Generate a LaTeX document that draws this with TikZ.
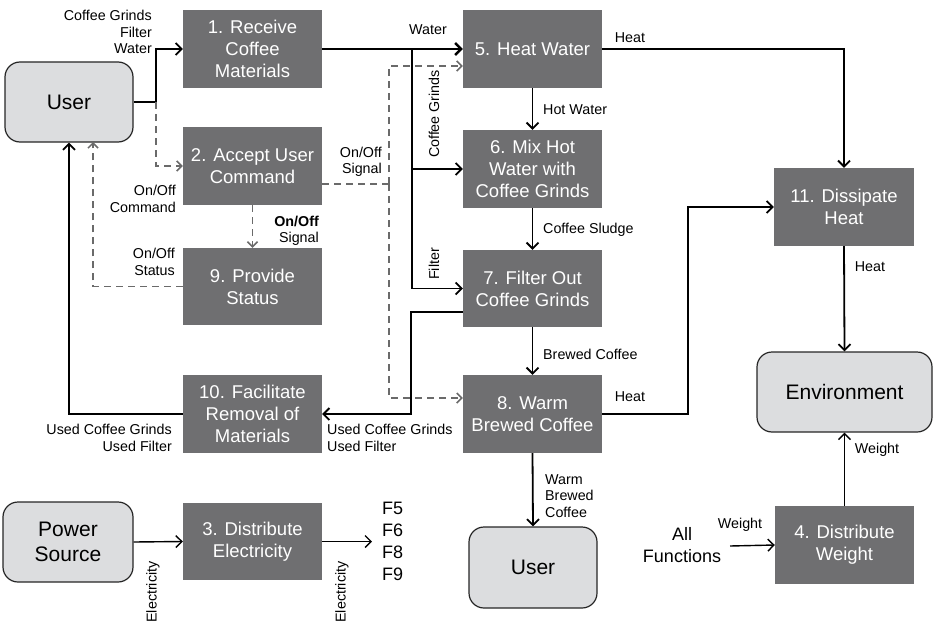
\documentclass[tikz,border=0pt]{standalone}
\usepackage{fontspec}
\setmainfont{Liberation Sans}
\usetikzlibrary{arrows.meta}
\definecolor{boxgray}{HTML}{6F6F71}
\definecolor{lightgray}{HTML}{DCDDDF}
\definecolor{dashgray}{HTML}{6A6A6A}
\begin{document}
\begin{tikzpicture}[x=1pt,y=-1pt,
 fbox/.style={fill=boxgray, text=white, minimum width=139pt, minimum height=78pt, inner sep=0pt, align=center, font=\fontsize{18.5}{22}\selectfont},
 ebox/.style={fill=lightgray, draw=black!85, line width=1.2pt, rounded corners=15pt, minimum width=128pt, minimum height=80pt, inner sep=0pt, align=center, font=\fontsize{21}{25}\selectfont},
 lbl/.style={font=\fontsize{14.3}{16.5}\selectfont, inner sep=0pt},
 flow/.style={line width=1.8pt, -{Straight Barb[length=6pt,width=12pt]}},
 thin flow/.style={line width=1.4pt, -{Straight Barb[length=6pt,width=12pt]}},
 sig/.style={line width=1.5pt, dashgray, dash pattern=on 7pt off 5pt, -{Straight Barb[length=5pt,width=10pt]}},
 sigline/.style={line width=1.5pt, dashgray, dash pattern=on 7pt off 5pt},
]
\useasboundingbox (0,0) rectangle (933,623);

% function boxes
\node[fbox] (b1) at (252.5,49) {1. Receive\\Coffee\\Materials};
\node[fbox] (b2) at (252.5,166) {2. Accept User\\Command};
\node[fbox,minimum height=77pt] (b9) at (252.5,286.5) {9. Provide\\Status};
\node[fbox] (b10) at (252.5,414) {10. Facilitate\\Removal of\\Materials};
\node[fbox,minimum height=77pt] (b3) at (252.5,541.5) {3. Distribute\\Electricity};
\node[fbox] (b5) at (532.5,49) {5. Heat Water};
\node[fbox] (b6) at (532.5,169) {6. Mix Hot\\Water with\\Coffee Grinds};
\node[fbox,minimum height=77pt] (b7) at (532.5,288.5) {7. Filter Out\\Coffee Grinds};
\node[fbox] (b8) at (532.5,414) {8. Warm\\Brewed Coffee};
\node[fbox,minimum width=140pt] (b11) at (844,207) {11. Dissipate\\Heat};
\node[fbox] (b4) at (844.5,545) {4. Distribute\\Weight};

% external entities
\node[ebox] (u1) at (69,102) {User};
\node[ebox,minimum width=130pt] (ps) at (68,542) {Power\\Source};
\node[ebox,minimum height=81pt] (u2) at (533,567.5) {User};
\node[ebox,minimum width=175pt] (env) at (844.5,392) {Environment};

% helper coordinates
\coordinate (j1) at (156,102);
\coordinate (u1a) at (93,142);
\coordinate (j2) at (412,49);
\coordinate (d1) at (389,184);
\coordinate (k1) at (411,312);
\coordinate (k2) at (688,414);
\coordinate (afs) at (730,546);
\coordinate (fe) at (372,541.5);

% connectors
\draw[flow] (u1.east) -- (j1) |- (b1.west);
\draw[sig] (j1) |- (b2.west);
\draw[sig] (b2.south) -- (b9.north);
\draw[sig] (b9.west) -| (u1a);
\draw[flow] (b10.west) -| (u1.south);
\draw[flow, line width=2.4pt] (b1.east) -- (b5.west);
\draw[flow] (j2) |- (b6.west);
\draw[flow] (j2) |- (b7.west);
\draw[sigline] ([yshift=-18pt]b2.east) -- (d1);
\draw[sig] (d1) |- ([yshift=-17pt]b5.west);
\draw[sig] (d1) |- ([yshift=16pt]b8.west);
\draw[flow] (b5.south) -- (b6.north);
\draw[flow] (b6.south) -- (b7.north);
\draw[flow] (b7.south) -- (b8.north);
\draw[flow] ([yshift=-23.5pt]b7.west) -- (k1) |- (b10.east);
\draw[flow] (b5.east) -| (b11.north);
\draw[flow] (b8.east) -- (k2) |- (b11.west);
\draw[flow] (b11.south) -- (env.north);
\draw[thin flow] (b4.north) -- (env.south);
\draw[thin flow] (afs) -- (b4.west);
\draw[thin flow] (ps.east) -- (b3.west);
\draw[thin flow] (b3.east) -- (fe);
\draw[flow] (b8.south) -- (u2.north);

% texts
\node[font=\fontsize{18}{22}\selectfont, align=center, inner sep=0pt] (af) at (682,545) {All\\Functions};
\node[font=\fontsize{18}{22}\selectfont, align=left, anchor=west, inner sep=0pt] (fl) at (382,541) {F5\\F6\\F8\\F9};

\node[lbl, align=right, anchor=east] (l1) at (152,32) {Coffee Grinds\\Filter\\Water};
\node[lbl] (l2) at (428,30) {Water};
\node[lbl, rotate=90] (l3) at (434,114) {Coffee Grinds};
\node[lbl, rotate=90] (l4) at (434,264) {Filter};
\node[lbl, align=right, anchor=east] (l5) at (382,162) {On/Off\\Signal};
\node[lbl, align=right, anchor=east] (l6) at (176,199) {On/Off\\Command};
\node[lbl, align=right, anchor=east] (l7) at (175,262) {On/Off\\Status};
\node[lbl, align=right, anchor=east] (l8) at (319,231) {\textbf{On/Off}\\Signal};
\node[lbl, align=right, anchor=east] (l9) at (172,438) {Used Coffee Grinds\\Used Filter};
\node[lbl, align=left, anchor=west] (l10) at (327,438) {Used Coffee Grinds\\Used Filter};
\node[lbl, anchor=west] (l11) at (543,110) {Hot Water};
\node[lbl, anchor=west] (l12) at (543,230) {Coffee Sludge};
\node[lbl, anchor=west] (l13) at (543,354) {Brewed Coffee};
\node[lbl, align=left, anchor=west] (l14) at (545,496) {Warm\\Brewed\\Coffee};
\node[lbl] (l15) at (630,38) {Heat};
\node[lbl] (l16) at (630,397) {Heat};
\node[lbl] (l17) at (870,267) {Heat};
\node[lbl] (l18) at (877,450) {Weight};
\node[lbl] (l19) at (740,525) {Weight};
\node[lbl, rotate=90] (l20) at (153,592) {Electricity};
\node[lbl, rotate=90] (l21) at (342,592) {Electricity};
\end{tikzpicture}
\end{document}
